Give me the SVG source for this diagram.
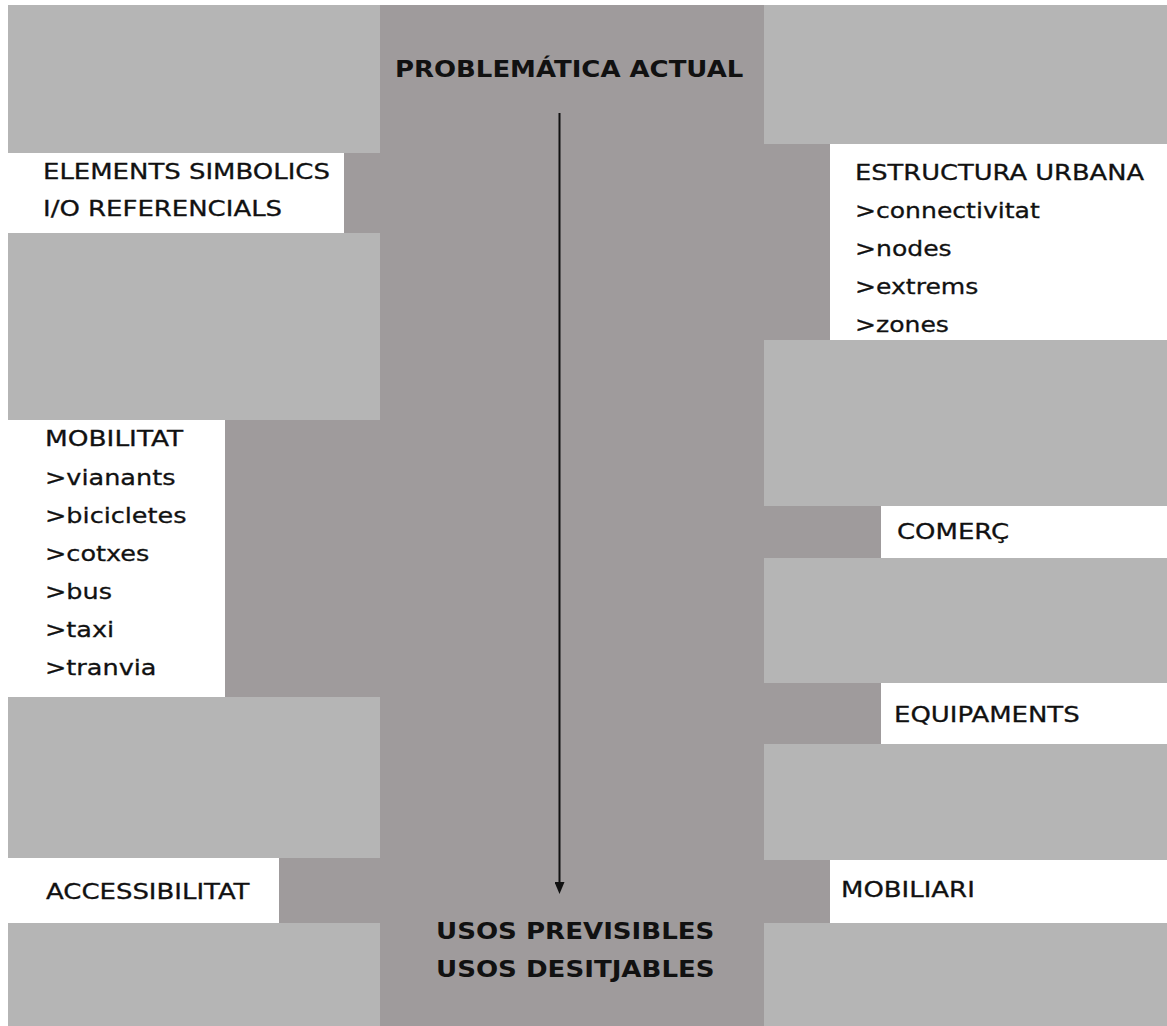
<svg xmlns="http://www.w3.org/2000/svg" width="1167" height="1026" viewBox="0 0 1167 1026">
<defs>
<style>
.dark{fill:#9f9b9c}
.light{fill:#b5b5b5}
.white{fill:#ffffff}
.t{font-family:"DejaVu Sans",Verdana,sans-serif;font-size:22px;fill:#111111;stroke:#111111;stroke-width:0.3}
.b{font-family:"DejaVu Sans",Verdana,sans-serif;font-size:23.5px;font-weight:bold;fill:#111111}
</style>
<marker id="ah" viewBox="0 0 12 10" refX="2" refY="5" markerWidth="12" markerHeight="10" markerUnits="userSpaceOnUse" orient="auto">
<path d="M0,0 L12,5 L0,10 Z" fill="#111111"/>
</marker>
</defs>
<rect width="1167" height="1026" fill="#ffffff"/>
<rect class="dark" x="8" y="5" width="1159" height="1021"/>
<g id="background-blocks">
<rect class="light" x="8" y="5" width="372" height="148"/>
<rect class="light" x="8" y="233" width="372" height="187"/>
<rect class="light" x="8" y="697" width="372" height="161"/>
<rect class="light" x="8" y="923" width="372" height="103"/>
<rect class="light" x="764" y="5" width="403" height="139"/>
<rect class="light" x="764" y="340" width="403" height="166"/>
<rect class="light" x="764" y="558" width="403" height="125"/>
<rect class="light" x="764" y="744" width="403" height="116"/>
<rect class="light" x="764" y="923" width="403" height="103"/>
</g>
<g id="node-problematica">
<text class="b" transform="translate(395,77) scale(1.105,1)">PROBLEMÁTICA ACTUAL</text>
</g>
<g id="node-usos">
<text class="b" transform="translate(436,939) scale(1.11,1)">USOS PREVISIBLES</text>
<text class="b" transform="translate(436,977) scale(1.11,1)">USOS DESITJABLES</text>
</g>
<g id="node-elements">
<rect class="white" x="8" y="153" width="336" height="80"/>
<text class="t" transform="translate(43,179) scale(1.18,1)">ELEMENTS SIMBOLICS</text>
<text class="t" transform="translate(43,216) scale(1.18,1)">I/O REFERENCIALS</text>
</g>
<g id="node-mobilitat">
<rect class="white" x="8" y="420" width="217" height="277"/>
<text class="t" transform="translate(45,446) scale(1.2,1)">MOBILITAT</text>
<text class="t" transform="translate(45,485) scale(1.16,1)">&gt;vianants</text>
<text class="t" transform="translate(45,523) scale(1.16,1)">&gt;bicicletes</text>
<text class="t" transform="translate(45,561) scale(1.16,1)">&gt;cotxes</text>
<text class="t" transform="translate(45,599) scale(1.16,1)">&gt;bus</text>
<text class="t" transform="translate(45,637) scale(1.16,1)">&gt;taxi</text>
<text class="t" transform="translate(45,675) scale(1.16,1)">&gt;tranvia</text>
</g>
<g id="node-accessibilitat">
<rect class="white" x="8" y="858" width="271" height="65"/>
<text class="t" transform="translate(46,899) scale(1.18,1)">ACCESSIBILITAT</text>
</g>
<g id="node-estructura">
<rect class="white" x="830" y="144" width="337" height="196"/>
<text class="t" transform="translate(855,180) scale(1.17,1)">ESTRUCTURA URBANA</text>
<text class="t" transform="translate(855,218) scale(1.14,1)">&gt;connectivitat</text>
<text class="t" transform="translate(855,256) scale(1.14,1)">&gt;nodes</text>
<text class="t" transform="translate(855,294) scale(1.14,1)">&gt;extrems</text>
<text class="t" transform="translate(855,332) scale(1.14,1)">&gt;zones</text>
</g>
<g id="node-comerc">
<rect class="white" x="881" y="506" width="286" height="52"/>
<text class="t" transform="translate(897,539) scale(1.18,1)">COMERÇ</text>
</g>
<g id="node-equipaments">
<rect class="white" x="881" y="683" width="286" height="61"/>
<text class="t" transform="translate(894,722) scale(1.18,1)">EQUIPAMENTS</text>
</g>
<g id="node-mobiliari">
<rect class="white" x="830" y="860" width="337" height="63"/>
<text class="t" transform="translate(841,897) scale(1.18,1)">MOBILIARI</text>
</g>
<g id="connectors">
<line x1="559.5" y1="113" x2="559.5" y2="884" stroke="#111111" stroke-width="2" marker-end="url(#ah)"/>
</g>
</svg>
